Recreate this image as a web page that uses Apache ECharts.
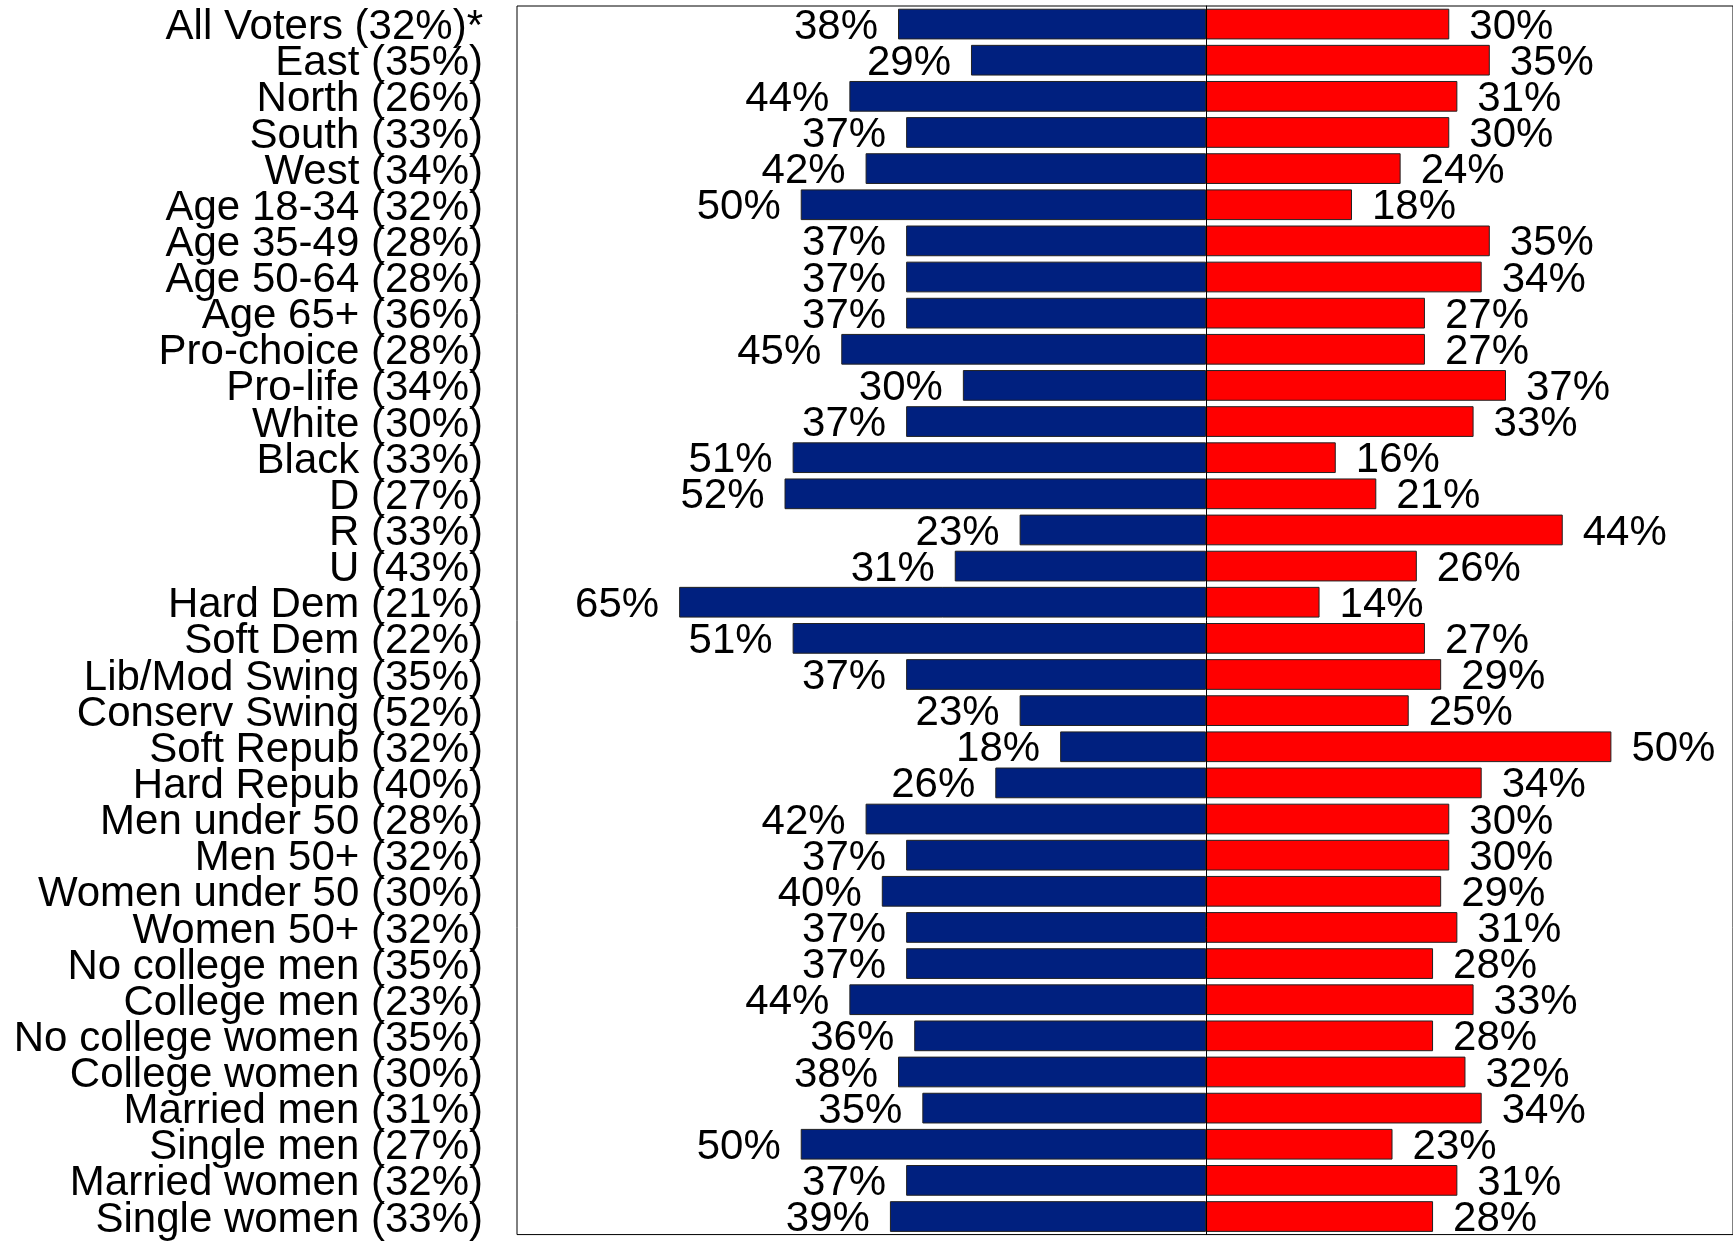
<!DOCTYPE html>
<html>
<head>
<meta charset="utf-8">
<script src="https://cdn.jsdelivr.net/npm/echarts@6/dist/echarts.min.js"></script>
<style>
html,body{margin:0;padding:0;background:#fff;}
#chart{width:1733px;height:1241px;}
</style>
</head>
<body>
<div id="chart"></div>
<script>
const categories = ["All Voters (32%)*","East (35%)","North (26%)","South (33%)","West (34%)","Age 18-34 (32%)","Age 35-49 (28%)","Age 50-64 (28%)","Age 65+ (36%)","Pro-choice (28%)","Pro-life (34%)","White (30%)","Black (33%)","D (27%)","R (33%)","U (43%)","Hard Dem (21%)","Soft Dem (22%)","Lib/Mod Swing (35%)","Conserv Swing (52%)","Soft Repub (32%)","Hard Repub (40%)","Men under 50 (28%)","Men 50+ (32%)","Women under 50 (30%)","Women 50+ (32%)","No college men (35%)","College men (23%)","No college women (35%)","College women (30%)","Married men (31%)","Single men (27%)","Married women (32%)","Single women (33%)"];
const blueValues = [38,29,44,37,42,50,37,37,37,45,30,37,51,52,23,31,65,51,37,23,18,26,42,37,40,37,37,44,36,38,35,50,37,39];
const redValues = [30,35,31,30,24,18,35,34,27,27,37,33,16,21,44,26,14,27,29,25,50,34,30,30,29,31,28,33,28,32,34,23,31,28];

const FONT = "'Liberation Sans', Arial, sans-serif";
const chart = echarts.init(document.getElementById('chart'), null, {renderer:'canvas'});
chart.setOption({
  animation:false,
  backgroundColor:'#fff',
  grid:{left:517, top:6, width:1222, height:1230, show:true, borderColor:'#000', borderWidth:1, backgroundColor:'transparent'},
  xAxis:{type:'value', min:-85, max:65, show:false, splitLine:{show:false}},
  yAxis:{type:'category', data:categories, inverse:true,
    axisLine:{show:true, onZero:true, lineStyle:{color:'#000', width:1}},
    axisTick:{show:false},
    axisLabel:{interval:0, color:'#000', margin:34,
      formatter:v=>'{a|'+v+'}',
      rich:{a:{fontSize:42, fontFamily:FONT, color:'#000', padding:[7,0,0,0]}}},
    z:5
  },
  series:[
    {type:'bar', data:blueValues.map(v=>-v), barWidth:'85%', barGap:'-100%',
     itemStyle:{color:'#00207F', borderColor:'#222', borderWidth:1},
     label:{show:true, position:'left', distance:20, offset:[0,3], fontSize:42, color:'#000', fontFamily:FONT,
       formatter:p=>Math.abs(p.value)+'%'}},
    {type:'bar', data:redValues, barWidth:'85%', barGap:'-100%',
     itemStyle:{color:'#FF0000', borderColor:'#222', borderWidth:1},
     label:{show:true, position:'right', distance:20, offset:[0,3], fontSize:42, color:'#000', fontFamily:FONT,
       formatter:p=>p.value+'%'}}
  ]
});
</script>
</body>
</html>
